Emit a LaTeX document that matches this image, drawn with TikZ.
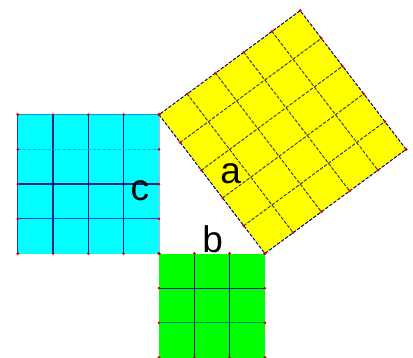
\documentclass[tikz,border=0pt]{standalone}
\usepackage{fontspec}
\setmainfont{Liberation Sans}
\usepackage{xcolor}
\usepackage{tikz}
\usetikzlibrary{calc}

\definecolor{sqcyan}{RGB}{0,255,255}
\definecolor{sqgreen}{RGB}{0,255,0}
\definecolor{sqyellow}{RGB}{255,255,0}
\definecolor{gridnavy}{RGB}{20,30,140}

\tikzset{
  lbl/.style={font=\fontsize{37}{40}\selectfont,inner sep=0pt,anchor=base},
  navy/.style={draw=gridnavy,line width=1.2pt},
  ygrid/.style={draw=black!75,densely dashed,line width=1pt},
  pt/.style={fill=red!90!black},
}

\begin{document}
\begin{tikzpicture}[x=35.3pt,y=34.7pt,line cap=round]
  \useasboundingbox (-4.504,-3.011) rectangle (7.195,7.305);
  % the three squares
  \fill[sqcyan] (-4,0) rectangle (0,4);
  \fill[sqgreen] (0,-3) rectangle (3,0);
  \fill[sqyellow] (0,4) -- (3,0) -- (7,3) -- (4,7) -- cycle;
  % square on c
  \foreach \x in {-3,-2,-1} \draw[navy] (\x,0) -- (\x,4);
  \draw[navy] (-4,2) -- (0,2);
  \draw[blue!75!cyan,line width=1pt] (-4,1) -- (0,1);
  \draw[blue!30!cyan,densely dashed,line width=0.9pt] (-4,3) -- (0,3);
  \draw[blue!75!cyan,line width=1pt] (-4,0) -- (-4,4);
  \draw[blue!40!cyan,line width=1pt] (-4,4) -- (0,4);
  \draw[violet!35,line width=1pt] (0,0) -- (0,4);
  % square on b
  \foreach \x in {1,2} \draw[navy] (\x,-3) -- (\x,0);
  \draw[navy] (0,-1) -- (3,-1);
  \draw[blue!50!green,line width=0.9pt] (0,-2) -- (3,-2);
  % square on a
  \foreach \i in {1,...,4} {
    \draw[ygrid] ({0.8*\i},{4+0.6*\i}) -- ++(3,-4);
    \draw[ygrid] ({0.6*\i},{4-0.8*\i}) -- ++(4,3);
  }
  \draw[blue!50!black,densely dashed,line width=1pt] (0,4) -- (3,0) -- (7,3) -- (4,7) -- cycle;
  % red points on the edges
  \foreach \i in {0,...,4} {
    \fill[pt] (\i-4,0) circle (1.5pt); \fill[pt] (\i-4,4) circle (1.5pt);
    \fill[pt] (-4,\i) circle (1.5pt); \fill[pt] (0,\i) circle (1.5pt);
  }
  \foreach \i in {0,...,3} {
    \fill[pt] (\i,0) circle (1.5pt); \fill[pt] (\i,-3) circle (1.5pt);
    \fill[pt] (0,-\i) circle (1.5pt); \fill[pt] (3,-\i) circle (1.5pt);
  }
  \foreach \i in {0,...,5} {
    \fill[pt] ({0.6*\i},{4-0.8*\i}) circle (1.5pt);
    \fill[pt] ({4+0.6*\i},{7-0.8*\i}) circle (1.5pt);
    \fill[pt] ({0.8*\i},{4+0.6*\i}) circle (1.5pt);
    \fill[pt] ({3+0.8*\i},{0.6*\i}) circle (1.5pt);
  }
  % labels
  \node[lbl] (c) at (-0.54,1.54) {c};
  \node[lbl] (a) at (2.03,2.03) {a};
  \node[lbl] (b) at (1.52,0.04) {b};
\end{tikzpicture}
\end{document}
